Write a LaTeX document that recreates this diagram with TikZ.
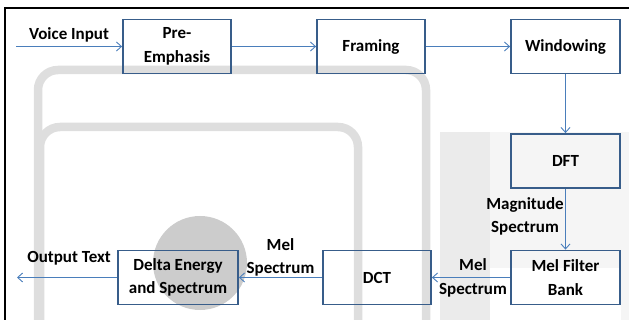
\documentclass[tikz,border=0pt]{standalone}
\usepackage{fontspec}
\setmainfont{Carlito}
\usetikzlibrary{arrows.meta}
\definecolor{boxblue}{HTML}{385D8A}
\definecolor{arrblue}{HTML}{4A7EBB}
\tikzset{
  stage/.style={draw=boxblue, line width=1.8pt, rectangle, minimum width=108pt, minimum height=54pt, inner sep=0pt, align=center, font=\bfseries\fontsize{17}{23.5}\selectfont},
  lbl/.style={inner sep=0pt, align=center, font=\bfseries\fontsize{17}{23.5}\selectfont},
  arr/.style={draw=arrblue, line width=0.9pt, -{Straight Barb[length=5pt,width=9pt]}},
  wm/.style={draw=gray!26, line width=8.5pt, rounded corners=20pt},
}
\begin{document}
\begin{tikzpicture}[x=1pt,y=-1pt]
\useasboundingbox (0,0) rectangle (629,320);
% watermark
\fill[gray!8] (440,132) rectangle (629,320);
\fill[white] (490,268) rectangle (621,320);
\fill[gray!16] (440,132) rectangle (490,320);
\draw[wm] (38,330) -- (38,70) -- (426,70) -- (426,330);
\draw[wm] (40,330) -- (40,127) -- (358,127) -- (358,330);
\fill[gray!40] (200,263) circle (47);
% frame
\draw[black, line width=1.5pt] (5,320) -- (5,8) -- (629,8);
% stages
\node[stage] (pre) at (177,46.5) {Pre-\\Emphasis};
\node[stage] (fram) at (371,46.5) {Framing};
\node[stage, minimum width=109pt] (win) at (565.5,46.5) {Windowing};
\node[stage, minimum width=109pt] (dft) at (565.5,161) {DFT};
\node[stage, minimum width=109pt] (mel) at (565.5,277.5) {Mel Filter\\Bank};
\node[stage] (dct) at (377,277.5) {DCT};
\node[stage, minimum width=120pt] (delta) at (178,277.5) {Delta Energy\\and Spectrum};
% free ends
\coordinate (vin) at (16,46.5);
\coordinate (vout) at (17,277.5);
% labels
\node[lbl] (lvin) at (69,35) {Voice Input};
\node[lbl] (lout) at (69,258) {Output Text};
\node[lbl] (lmag) at (525,216.5) {Magnitude\\Spectrum};
\node[lbl] (lmel1) at (473,278) {Mel\\Spectrum};
\node[lbl] (lmel2) at (280.5,257.5) {Mel\\Spectrum};
% connectors
\draw[arr] (vin) -- (pre.west);
\draw[arr] (pre.east) -- (fram.west);
\draw[arr] (fram.east) -- (win.west);
\draw[arr] (win.south) -- (dft.north);
\draw[arr] (dft.south) -- (mel.north);
\draw[arr] (mel.west) -- (dct.east);
\draw[arr] (dct.west) -- (delta.east);
\draw[arr] (delta.west) -- (vout);
\end{tikzpicture}
\end{document}
